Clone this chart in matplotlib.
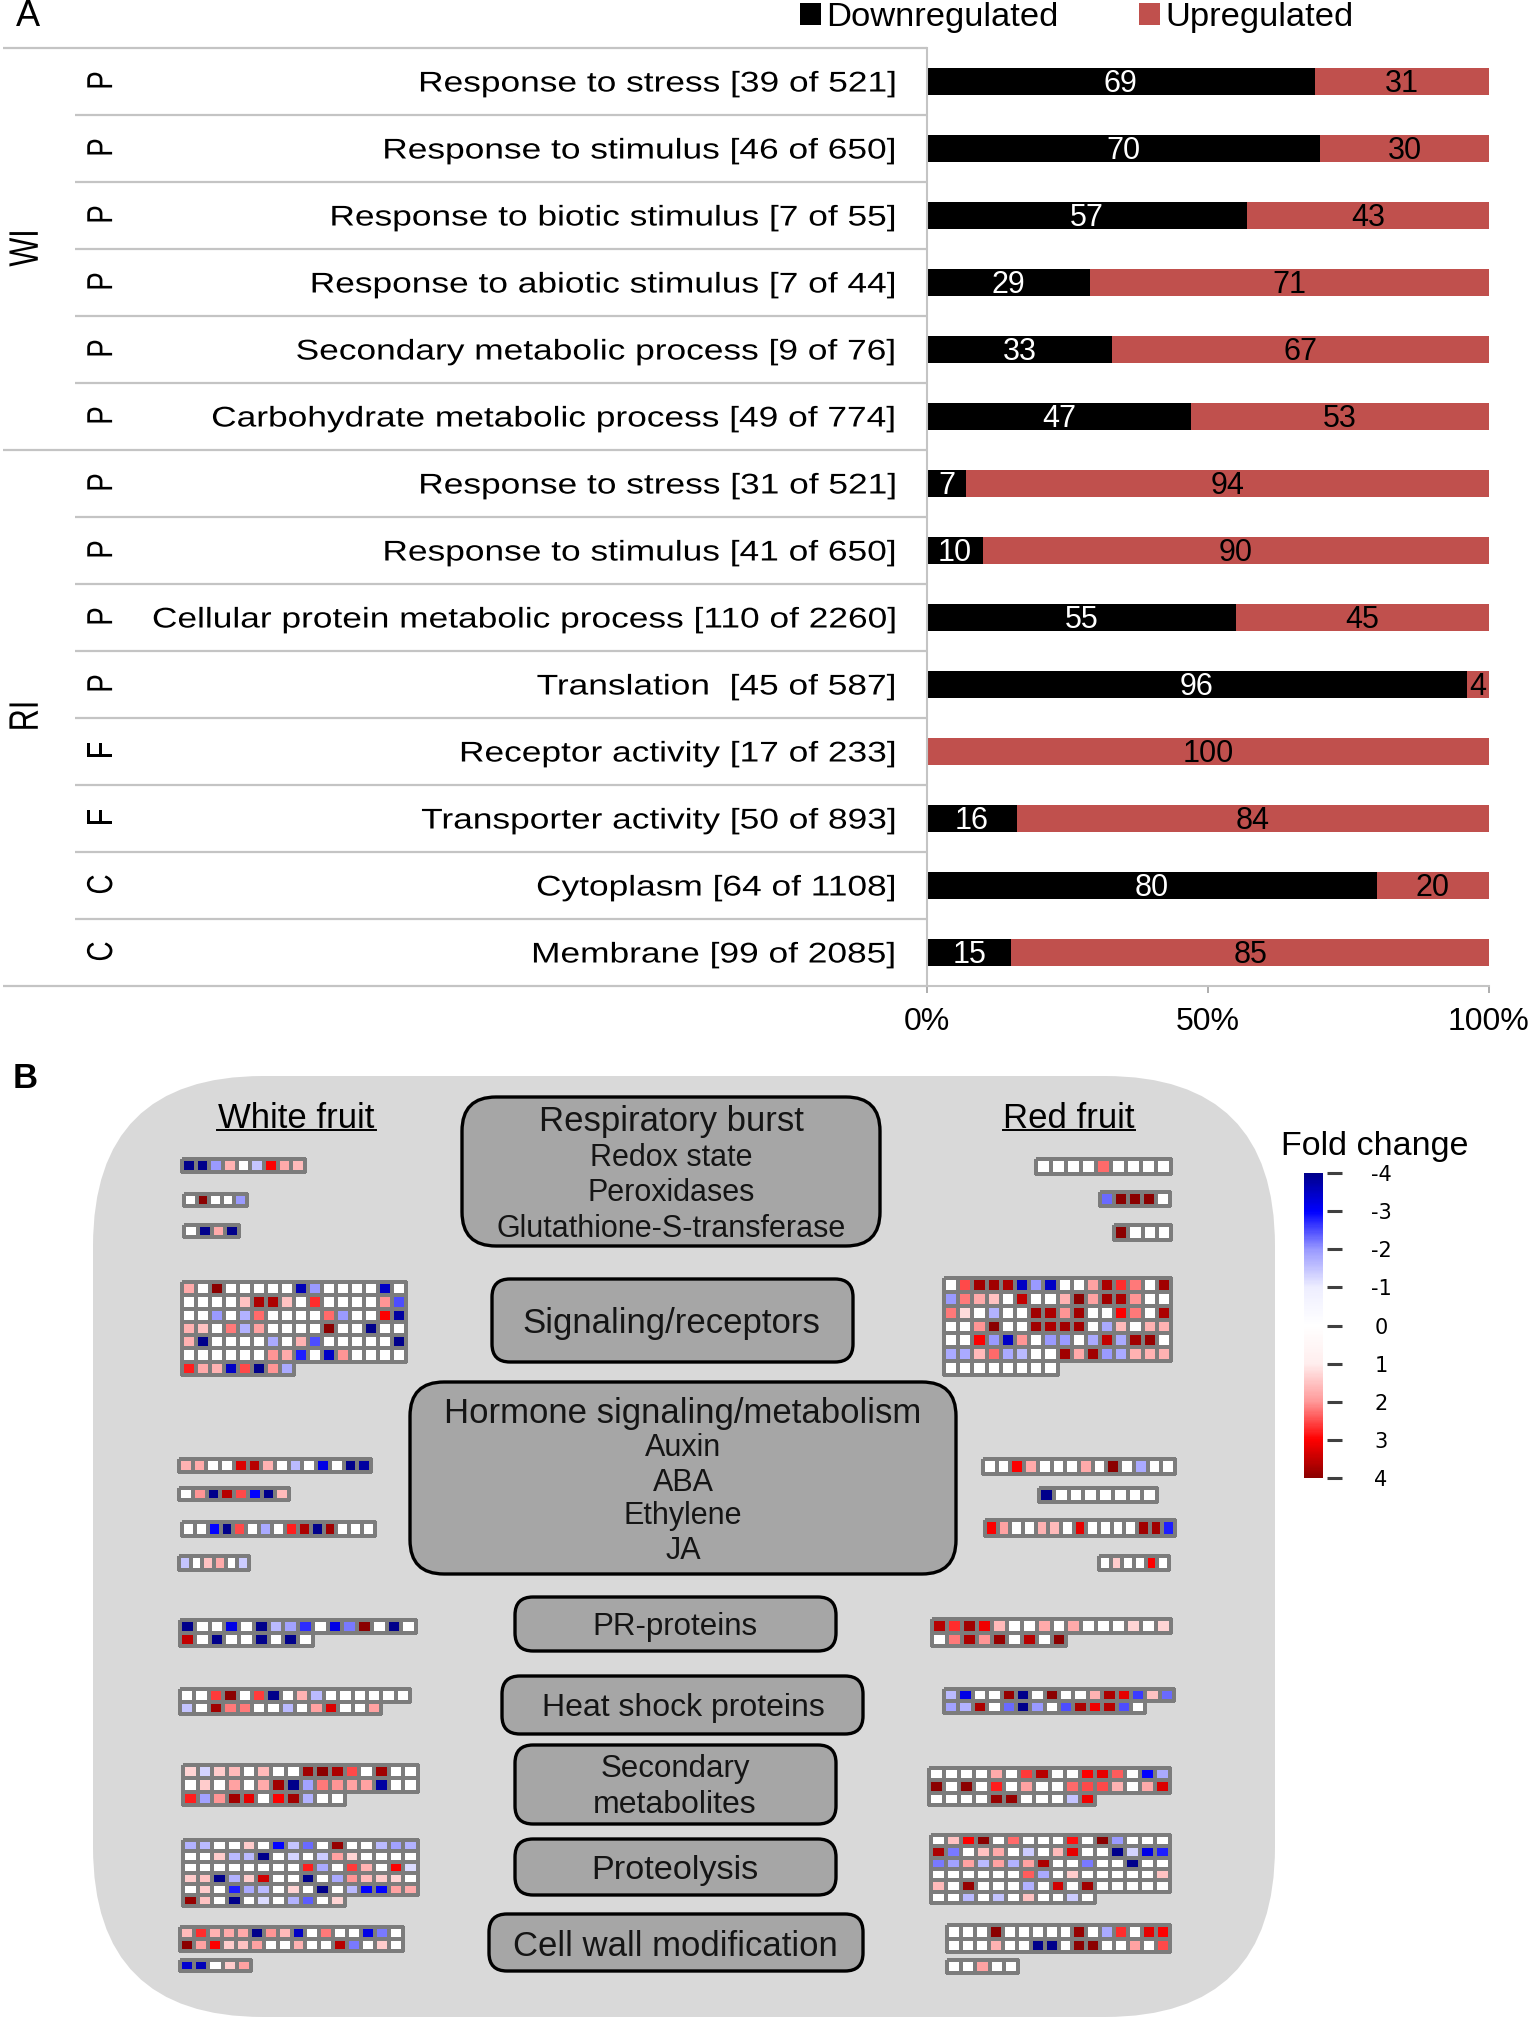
import numpy as np
import matplotlib
matplotlib.use("Agg")
import matplotlib.pyplot as plt
from matplotlib.colors import LinearSegmentedColormap
from matplotlib.patches import FancyBboxPatch
from matplotlib.patheffects import AbstractPathEffect
from matplotlib.transforms import Affine2D

plt.rcParams["font.family"] = ["Liberation Sans", "DejaVu Sans"]

W, H = 1535, 2022
DPI = 100

# -----------------------
# PANEL A DATA
# -----------------------
terms = [
    "Response to stress [39 of 521]",
    "Response to stimulus [46 of 650]",
    "Response to biotic stimulus [7 of 55]",
    "Response to abiotic stimulus [7 of 44]",
    "Secondary metabolic process [9 of 76]",
    "Carbohydrate metabolic process [49 of 774]",
    "Response to stress [31 of 521]",
    "Response to stimulus [41 of 650]",
    "Cellular protein metabolic process [110 of 2260]",
    "Translation  [45 of 587]",
    "Receptor activity [17 of 233]",
    "Transporter activity [50 of 893]",
    "Cytoplasm [64 of 1108]",
    "Membrane [99 of 2085]",
]
onto = ["P", "P", "P", "P", "P", "P", "P", "P", "P", "P", "F", "F", "C", "C"]
down = [69, 70, 57, 29, 33, 47, 7, 10, 55, 96, 0, 16, 80, 15]
up = [31, 30, 43, 71, 67, 53, 94, 90, 45, 4, 100, 84, 20, 85]

# -----------------------
# PANEL B DATA (fold change per gene, short rows = fewer cells)
# -----------------------
w_burst1 = [[-4, -4, -2, 1.7, 0, -1.5, 3, 1.8, 1.6]]
w_burst2 = [[0, 4, 0, 0, -2]]
w_burst3 = [[0, -4, 1.8, -4]]
w_signal = [
    [1.8, 0, 4, 0, 0, 0, 0, 0, -3.6, -2, 0, 0, 0, 0, -3.5, 0],
    [0, 0, 0, 0, 1.5, 3.7, 3.7, 1.5, 0, 2.7, 0, 0, 0, 0, 2, -2.5],
    [0, 0, -2, 0, -1.7, 2.3, 0, 0, 0, 0, 2.3, -2, 0, 0, 3, -3.8],
    [1.7, 1.5, 0, 2.2, -1.7, 1.9, 0, 0, 0, 0, 4, 0, 0, -4, 0, 0],
    [1.7, -4, 0, 0, 0, 0, -1.8, 0, 1.7, -2.5, 0, 0, 0, 0, 0, -4],
    [0, 0, 0, 0, 0, 0, 2, 1.8, -2.8, 0, -3.5, 2, 0, 0, 0, 0],
    [2.8, 1.8, 1.7, -3.5, 2.5, -4, 2, -1.8],
]
w_horm1 = [[1.7, 1.8, 0, 0, 3.3, 3.6, 1.7, 0, -1.6, 0, -3.2, 0, -4, -3.8]]
w_horm2 = [[0, 2, -4, 3.6, 2.5, -3, -4, 1.6]]
w_horm3 = [[0, 0, -3, -4, 2.5, 0, -1.8, 0, 2.8, 3.7, -4, 3.8, 0, 0, 0]]
w_horm4 = [[-1.5, 0, 1.5, 1.8, 0, -1.4]]
w_pr = [
    [-4, 0, 0, -3.2, 0, -4, -1.6, -1.9, -2.7, 0, -3.2, -2.2, 4, 0, -4, 0],
    [3.5, 0, -4, 0, 0, -4, 0, -4, 0],
]
w_hsp = [
    [0, 0, 2.6, 4, 0, 2.6, -4, 0, 1.7, -1.6, 0, 0, 0, 0, 0, 0],
    [-1.5, 0, 3.8, 2.2, 2.2, 0, 0, -1.6, 0, 1.9, 3.3, 0, 0, 1.9],
]
w_second = [
    [1.3, -1.3, 1.4, 1.6, 0, 1.6, 0, 0, 3.8, 4, 3.7, 2.5, 0, 3.8, 0, 0],
    [0, 1.4, 0, 1.9, 0, 1.8, 3.8, -4, -1.9, 2.2, 2, 1.9, 1.9, -3.8, 0, 0],
    [2.8, -1.9, 2, 3.8, 3.2, 0, 3, 3.8, -1.7, 0, 0],
]
w_prot = [
    [-1.7, -1.6, 0, 0, 1.4, 0, -3, -1.5, -2.3, 0, 3.9, 0, 0, -1.6, -1.9, -1.7],
    [0, 0, 1.4, -1.6, -1.6, -4, 0, -1.3, 0, -1.4, 1.9, 1.3, 0, 0, 0, 0],
    [0, 0, 0, 0, 0, 0, 0, 0, 2.8, -1.8, 0, 2.6, 1.7, 0, 3, -1.2],
    [1.4, 1.5, -4, -1.7, 1.4, 3.4, 0, 0, -4, 0, -1.8, 2, 1.6, 1.4, 1.3, 0],
    [0, 1.4, 0, -2.8, -1.8, -1.6, 0, 1.3, 0, -4, 0, -1.6, -3, -3, 1.9, 1.8],
    [3.9, 1.5, 0, -4, 0, -1.2, 0, -1.7, -2.4, 0, 1.3],
]
w_wall1 = [
    [1.6, 2.7, 1.7, 1.8, 1.8, -4, 2, 1.6, -3.5, 0, 2.2, 0, 0, -3.2, -2.2, 0],
    [4, 1.9, 3, 1.4, 1.5, 1.9, 0, 0, 1.7, 0, 0, 3.6, -2.2, 0, 1.4, 0],
]
w_wall2 = [[-3.4, -3.6, 0, 1.4, 1.9]]

r_burst1 = [[0, 0, 0, 0, 2.3, 0, 0, 0, 0]]
r_burst2 = [[-2.3, 4, 4, 4, 0]]
r_burst3 = [[4, 0, 0, 0]]
r_signal = [
    [0, 2.5, 3.8, 3.8, 3.7, -3.5, -2, -3.5, 0, 0, 1.9, 3.7, 2.7, 2.2, 0, 3.8],
    [-2, 2.2, 1.8, 1.5, 0, 3.5, 0, 0, 1.7, 4, 1.9, 3.8, 3.7, 2, 0, 0],
    [2.2, 1.2, 0, -1.7, 0, 0, 3.8, 3.7, 2, 3.8, 0, 0, 3, 2.2, 0, 3.7],
    [0, 0, 2, 4, 0, 0, 3.8, 3.7, 3.8, 3.8, 0, -1.8, 1.6, 0, 1.7, 1.7],
    [0, 0, 3, -2, -3.5, 2, 0, -2, -2, 0, -1.8, 3.5, -1.8, 3.8, 3.9, 0],
    [-1.8, -1.8, 1.6, 2.3, -1.8, -1.6, 0, 0, 3.8, 1.8, 3.8, -2, -1.8, 1.7, 1.7, 1.7],
    [0, 0, 0, 0, 0, 0, 0, 0],
]
r_horm1 = [[0, 0, 3, 1.8, 0, 0, 0, 1.8, 0, 4, 0, -1.8, 0, 0]]
r_horm2 = [[-4, 0, 0, 0, 0, 0, 0, 0]]
r_horm3 = [[3, 1.9, 0, 0, 1.7, 1.6, 0, 3.2, 0, 0, 0, 0, 3.8, 3.8, -2.8]]
r_horm4 = [[0, 1.4, 0, 0, 3, 0]]
r_pr = [
    [3.6, 2.7, 3.8, 3.1, 1.6, 0, 0, 1.8, 0, 1.8, 0, 0, 0, 1.3, 0, 1.3],
    [0, 2.2, 3.7, 2, 3.9, 0, 3.6, 0, 4],
]
r_hsp = [
    [-1.6, -3.2, 0, 0, 3.9, -4, 0, 4, 0, 0, 1.7, 3.7, 3.2, -2.6, 1.5, -2.3],
    [-1.9, -1.7, 3.7, 0, -2.3, -4, -2, 0, -2.5, 3.7, 3.1, 3.6, -2.5, 0],
]
r_second = [
    [0, 0, 0, 0, 1.8, 0, 2.6, 3.6, 0, 0, 3, 3.2, 2.4, 0, -3, -1.8],
    [4, 0, 4, 0, 2.8, 0, 1.9, 0, 0, 2.3, 2.5, 2.5, 1.7, 0, 1.8, 3.3],
    [0, 0, 0, 0, 3.9, 3.9, 0, 0, 0, -1.5, 3.1],
]
r_prot = [
    [0, 1.5, 3, 4, 0, 2.3, 0, 0, 0, 2.9, 0, 4, -2, 0, 0, 0],
    [3.7, -2.2, 0, 1.5, 1.8, 0, -1.4, 0, 1.6, 3.2, 0, 0, -4, -1.3, -3.2, -2.8],
    [-2.2, -1.9, 1.9, -1.6, 1.9, -1.7, 1.9, 3.7, 0, 0, -2.2, 0, 0, -4, 0, 0],
    [0, 0, 0, 0, 0, 0, 2.4, -1.8, 0, 1.4, 0, 0, 0, 0, 0, 1.5],
    [1.6, 0, 3.9, 0, 0, 0, -1.7, 0, 3.4, 0, 3.8, 0, 0, 0, 0, 0],
    [0, 0, -1.6, 0, -1.5, 0, 1.5, 0, 0, -1.4, 0],
]
r_wall1 = [
    [0, 0, 0, 4, 0, 0, 0, 0, 0, 3.9, 0, -1.8, 2.7, 0, 3.2, 3],
    [0, 0, 0, 1.7, 0, 0, -4, -4, 0, 4, 4, 0, 0, 1.9, 0, 2.5],
]
r_wall2 = [[0, 0, 1.9, 0, 0]]

cbar_ticks = [-4, -3, -2, -1, 0, 1, 2, 3, 4]

# -----------------------
# LAYOUT (reference pixels: block x0, x1, y0, y1)
# -----------------------
blocks = [
    (w_burst1, 180, 307, 1157, 1174), (w_burst2, 182, 249, 1192, 1208),
    (w_burst3, 182, 241, 1223, 1239), (w_signal, 180, 408, 1280, 1377),
    (w_horm1, 177, 373, 1457, 1474), (w_horm2, 177, 291, 1486, 1502),
    (w_horm3, 180, 377, 1520, 1538), (w_horm4, 177, 251, 1554, 1572),
    (w_pr, 178, 418, 1618, 1648), (w_hsp, 178, 412, 1687, 1716),
    (w_second, 181, 420, 1763, 1807), (w_prot, 181, 420, 1838, 1908),
    (w_wall1, 178, 405, 1925, 1953), (w_wall2, 178, 253, 1958, 1973),
    (r_burst1, 1034, 1173, 1157, 1176), (r_burst2, 1098, 1172, 1190, 1208),
    (r_burst3, 1112, 1173, 1223, 1242), (r_signal, 942, 1173, 1276, 1377),
    (r_horm1, 981, 1177, 1457, 1476), (r_horm2, 1037, 1159, 1486, 1504),
    (r_horm3, 983, 1177, 1518, 1538), (r_horm4, 1097, 1171, 1554, 1572),
    (r_pr, 930, 1173, 1617, 1648), (r_hsp, 942, 1176, 1687, 1715),
    (r_second, 927, 1172, 1766, 1807), (r_prot, 929, 1172, 1833, 1905),
    (r_wall1, 945, 1172, 1923, 1954), (r_wall2, 945, 1020, 1958, 1975),
]
boxes = [
    (462, 880, 1097, 1246), (492, 853, 1279, 1362), (410, 956, 1382, 1574),
    (515, 836, 1597, 1651), (502, 863, 1676, 1734), (515, 836, 1745, 1824),
    (515, 836, 1839, 1895), (489, 863, 1914, 1971),
]
box_text = [
    ("Respiratory burst", 671, 1122, 25), ("Redox state", 671, 1158, 22),
    ("Peroxidases", 671, 1193, 22), ("Glutathione-S-transferase", 671, 1229, 22),
    ("Signaling/receptors", 671, 1323, 25),
    ("Hormone signaling/metabolism", 683, 1413, 25), ("Auxin", 683, 1448, 22),
    ("ABA", 683, 1483, 22), ("Ethylene", 683, 1516, 22), ("JA", 683, 1551, 22),
    ("PR-proteins", 675, 1627, 22.5), ("Heat shock proteins", 683, 1708, 23),
    ("Secondary", 675, 1769, 22.5), ("metabolites", 675, 1805, 23),
    ("Proteolysis", 675, 1871, 24.7), ("Cell wall modification", 675, 1946, 25),
]


class Stretch(AbstractPathEffect):
    """Widen text horizontally about a fixed x pixel (the source art is stretched)."""

    def __init__(self, sx, x_px):
        super().__init__()
        self.sx = sx
        self.x_px = x_px

    def draw_path(self, renderer, gc, tpath, affine, rgbFace=None):
        stretch = Affine2D().translate(-self.x_px, 0).scale(self.sx, 1).translate(self.x_px, 0)
        renderer.draw_path(gc, tpath, affine + stretch, rgbFace)


fig = plt.figure(figsize=(W / DPI, H / DPI), dpi=DPI)

# full-figure axes in pixel coords for the panel furniture
bg = fig.add_axes([0, 0, 1, 1])
bg.set_xlim(0, W)
bg.set_ylim(H, 0)
bg.axis("off")

# -----------------------
# PANEL A
# -----------------------
A_L, A_R, A_T, A_B = 927, 1489, 48, 986
ax = fig.add_axes([A_L / W, 1 - A_B / H, (A_R - A_L) / W, (A_B - A_T) / H])
ax.patch.set_alpha(0)

down = np.array(down, dtype=float)
up = np.array(up, dtype=float)
total = down + up
rows = np.arange(len(terms)) + 0.5

b_down = ax.barh(rows, down / total * 100, height=0.39, color="black", label="Downregulated")
b_up = ax.barh(rows, up / total * 100, left=down / total * 100, height=0.39,
               color="#c0504d", label="Upregulated")
l_down = ax.bar_label(b_down, labels=[f"{v:.0f}" if v > 0 else "" for v in down],
                      label_type="center", color="white", fontsize=22)
l_up = ax.bar_label(b_up, labels=[f"{v:.0f}" for v in up],
                    label_type="center", color="black", fontsize=22)
for t in list(l_down) + list(l_up):
    t.xyann = (0, -1.5)

ax.set_xlim(0, 100)
ax.set_ylim(len(terms), 0)
ax.set_xticks([0, 50, 100], ["0%", "50%", "100%"], fontsize=23)
ax.set_yticks(rows, terms, fontsize=20.5)
ax.tick_params(axis="y", length=0, pad=22)
ax.tick_params(axis="x", length=5, width=1.2, color="#a0a0a0", pad=10)
for lab in ax.get_yticklabels():
    lab.set_path_effects([Stretch(1.24, 896)])
for s in ["top", "right"]:
    ax.spines[s].set_visible(False)
ax.spines["left"].set_color("#c4c4c4")
ax.spines["left"].set_linewidth(1.5)
ax.spines["bottom"].set_color("#c4c4c4")
ax.spines["bottom"].set_linewidth(1.5)

ax.legend(loc="lower left", bbox_to_anchor=(-0.232, 1.012), ncol=2, frameon=False,
          fontsize=24.8, handlelength=0.6, handleheight=0.6, handletextpad=0.15,
          columnspacing=2.35, borderpad=0, borderaxespad=0.1)

# row separators and ontology letters
for i in range(len(terms) + 1):
    y = A_T + (A_B - A_T) * i / len(terms)
    x0 = 3 if i in (0, 6, len(terms)) else 75
    bg.plot([x0, A_L], [y, y], color="#c4c4c4", lw=1.6, solid_capstyle="butt")
for i, letter in enumerate(onto):
    y = A_T + (A_B - A_T) * (i + 0.5) / len(terms)
    bg.text(103, y - 1, letter, rotation=90, ha="center", va="center", fontsize=20,
            path_effects=[Stretch(1.3, 103)])
bg.text(27, 248, "WI", rotation=90, ha="center", va="center", fontsize=22,
        path_effects=[Stretch(1.35, 27)])
bg.text(27, 716, "RI", rotation=90, ha="center", va="center", fontsize=22,
        path_effects=[Stretch(1.35, 27)])
bg.text(28, 17, "A", ha="center", va="center", fontsize=26)
bg.text(25, 1079, "B", ha="center", va="center", fontsize=25, fontweight="bold")

# -----------------------
# PANEL B
# -----------------------
fold_cmap = LinearSegmentedColormap.from_list("fold", [
    (0.000, "#00008b"), (0.125, "#0000ff"), (0.250, "#9999ff"), (0.375, "#eeeeff"),
    (0.500, "#ffffff"), (0.625, "#ffeeee"), (0.750, "#ff9999"), (0.875, "#ff0000"),
    (1.000, "#8b0000"),
])

bg.add_patch(FancyBboxPatch((93 + 170, 1076 + 170), 1182 - 340, 941 - 340,
                            boxstyle="round,pad=170,rounding_size=170",
                            fc="#d9d9d9", ec="none"))

for x0, x1, y0, y1 in boxes:
    r = 34 if y1 - y0 > 100 else 18
    bg.add_patch(FancyBboxPatch((x0 + r, y0 + r), x1 - x0 - 2 * r, y1 - y0 - 2 * r,
                                boxstyle=f"round,pad={r},rounding_size={r}",
                                fc="#a6a6a6", ec="black", lw=2.4))
for label, x, y, size in box_text:
    bg.text(x, y, label, ha="center", va="center", fontsize=size, color="#151515")

bg.text(296, 1118, "White fruit", ha="center", va="center", fontsize=25)
bg.plot([217, 376], [1130, 1130], color="black", lw=1.4)
bg.text(1069, 1118, "Red fruit", ha="center", va="center", fontsize=25)
bg.plot([1003, 1135], [1130, 1130], color="black", lw=1.4)

for vals, x0, x1, y0, y1 in blocks:
    ncol = max(len(row) for row in vals)
    xe = np.linspace(x0 + 2, x1 - 2, ncol + 1)
    ye = np.linspace(y0 + 2, y1 - 2, len(vals) + 1)
    # one mesh per row so that short rows leave no empty outlined cells
    for i, row in enumerate(vals):
        bg.pcolormesh(xe[:len(row) + 1], ye[i:i + 2], np.array([row], dtype=float),
                      cmap=fold_cmap, vmin=-4, vmax=4, edgecolors="#7c7c7c", linewidth=1.7)

# colour scale
cax = fig.add_axes([1304 / W, 1 - 1478 / H, 19 / W, 305 / H])
sm = plt.cm.ScalarMappable(cmap=fold_cmap, norm=plt.Normalize(-4, 4))
cb = fig.colorbar(sm, cax=cax)
cb.outline.set_visible(False)
cb.set_ticks([])
cax.invert_yaxis()

tax = fig.add_axes([1327 / W, 1 - 1478 / H, 15 / W, 305 / H])
tax.patch.set_alpha(0)
tax.set_xlim(0, 1)
tax.set_ylim(4, -4)
tax.hlines(cbar_ticks, 0, 1, color="#404040", lw=2.2, clip_on=False)
tax.set_xticks([])
tax.yaxis.tick_right()
tax.set_yticks(cbar_ticks, [str(t) for t in cbar_ticks], family="DejaVu Sans", fontsize=15)
tax.tick_params(axis="y", length=0, pad=28)
for lab in tax.get_yticklabels():
    lab.set_ha("center")
for s in tax.spines.values():
    s.set_visible(False)
bg.text(1375, 1147, "Fold change", ha="center", va="center", fontsize=24.5)

fig.savefig("out.png", dpi=DPI)
